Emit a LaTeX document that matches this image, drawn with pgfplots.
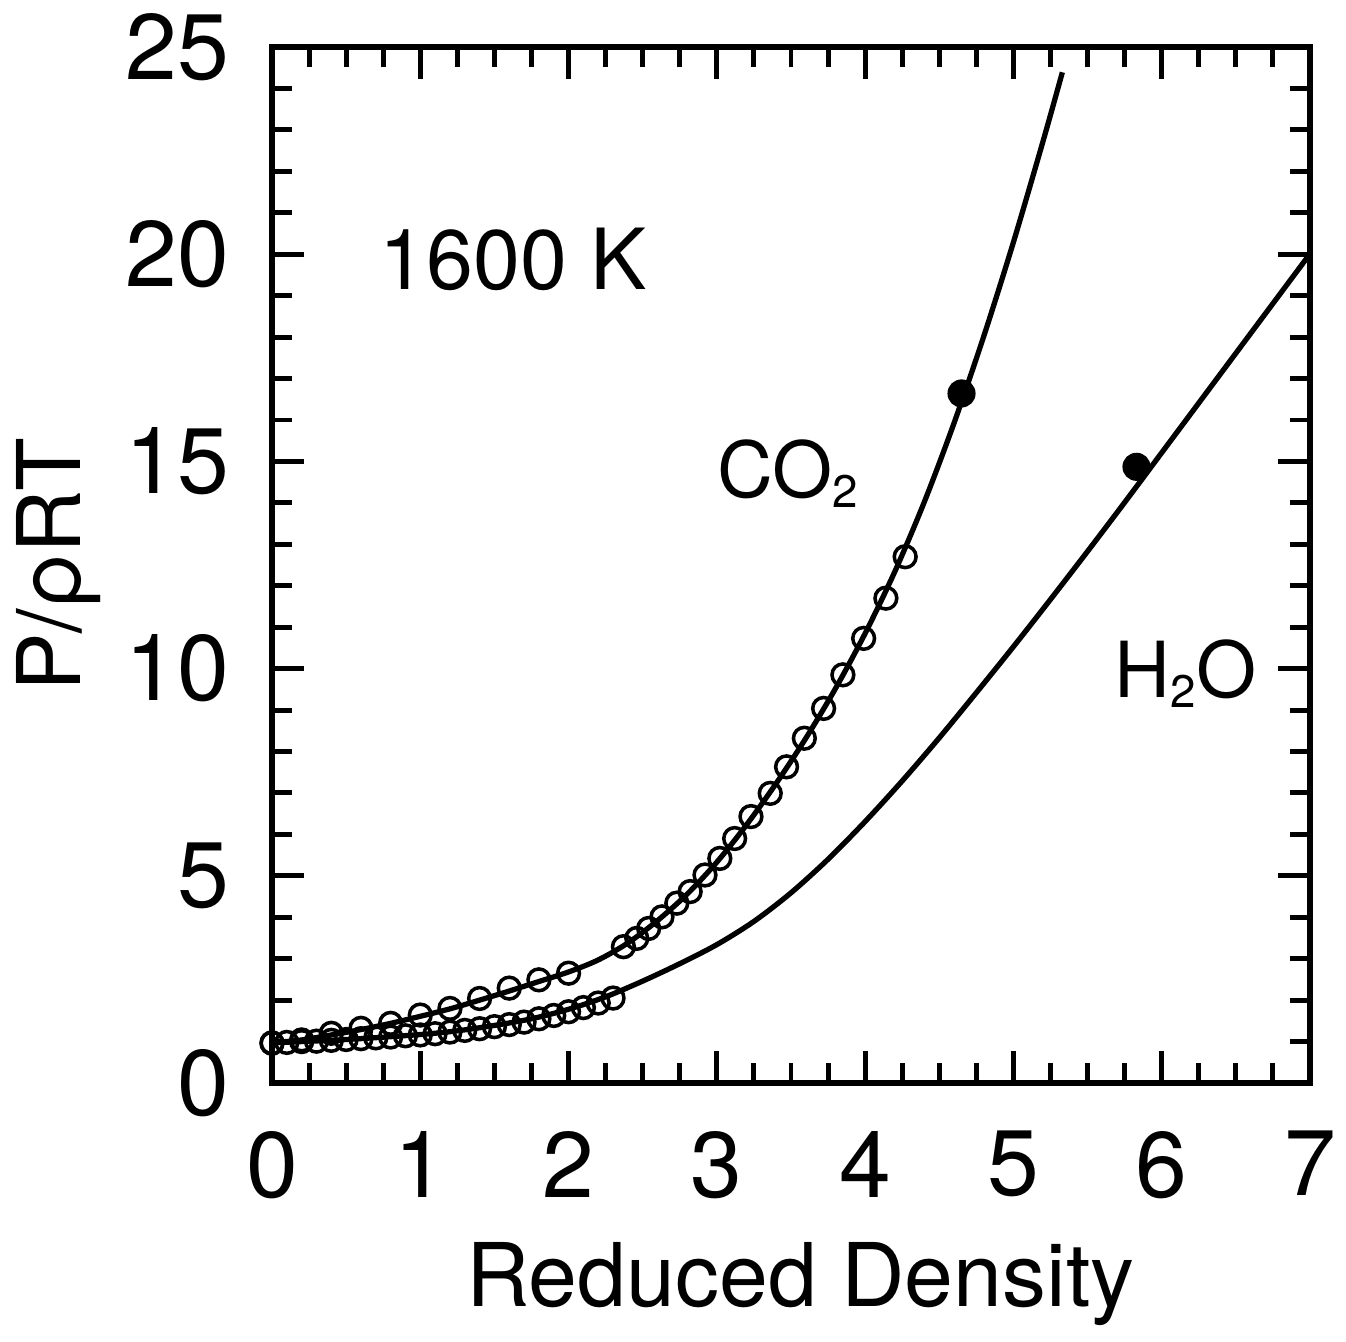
\documentclass[border=0pt]{standalone}
\usepackage{pgfplots}
\pgfplotsset{compat=1.18}
\usepackage{fontspec}
\setmainfont{TeX Gyre Heros}
\newcommand{\sub}[1]{\raisebox{-0.1cm}{\fontsize{13}{15}\selectfont #1}}

\begin{document}
\fontsize{25}{30}\selectfont
\begin{tikzpicture}
\begin{axis}[
  scale only axis, width=10.38cm, height=10.36cm,
  xmin=0, xmax=7, ymin=0, ymax=25,
  xtick={0,...,7}, ytick={0,5,...,25},
  minor x tick num=3, minor y tick num=4,
  tick align=inside, xtick pos=both, ytick pos=both,
  major tick length=0.32cm, minor tick length=0.2cm,
  every tick/.style={black, line width=1.4pt},
  axis line style={line width=1.7pt},
  tick label style={font=\fontsize{26.5}{30}\selectfont},
  /pgf/number format/assume math mode=true,
  xticklabel style={yshift=-0.18cm},
  yticklabel style={xshift=-0.13cm},
  xlabel={Reduced Density}, ylabel={P/ρRT},
  label style={font=\fontsize{25}{30}\selectfont},
  xlabel style={at={(axis description cs:0.509,-0.125)}, anchor=north},
  ylabel style={at={(axis description cs:-0.206,0.5)}, anchor=center},
  clip=false,
]
% fitted curves
\addplot[black, line width=1.5pt, smooth] coordinates {
  (0,0.97) (0.2,1.04) (0.4,1.16) (0.6,1.29) (0.8,1.44) (1.0,1.61)
  (1.2,1.79) (1.4,2.00) (1.6,2.22) (1.8,2.45) (2.0,2.68) (2.2,2.97)
  (2.4,3.38) (2.6,3.92) (2.8,4.56) (3.0,5.33) (3.2,6.23) (3.4,7.23)
  (3.6,8.32) (3.8,9.52) (4.0,10.85) (4.2,12.34) (4.4,14.03) (4.6,15.93)
  (4.8,18.02) (5.0,20.29) (5.2,22.73) (5.33,24.39)};
\addplot[black, line width=1.5pt, smooth] coordinates {
  (0,0.97) (0.5,1.05) (1.0,1.17) (1.25,1.26) (1.5,1.39) (1.75,1.55)
  (2.0,1.78) (2.25,2.08) (2.5,2.46) (2.75,2.88) (3.0,3.34) (3.25,3.90)
  (3.5,4.59) (3.75,5.40) (4.0,6.31) (4.25,7.29) (4.5,8.33) (4.75,9.42)
  (5.0,10.53) (5.25,11.67) (5.5,12.83) (5.75,14.01) (6.0,15.21)
  (6.25,16.41) (6.5,17.61) (6.75,18.81) (7.0,20.01)};
% CO2 points
\addplot[only marks, mark=o, mark size=3.1pt, mark options={line width=1pt, black}] coordinates {
  (0,0.96) (0.2,1.04) (0.4,1.20) (0.6,1.32) (0.8,1.44) (1.0,1.64)
  (1.2,1.80) (1.4,2.04) (1.6,2.29) (1.8,2.49) (2.0,2.65)
  (2.37,3.29) (2.46,3.49) (2.54,3.73) (2.63,4.01) (2.73,4.34) (2.82,4.62)
  (2.92,5.02) (3.02,5.42) (3.12,5.90) (3.23,6.43) (3.36,6.99) (3.47,7.63)
  (3.59,8.32) (3.72,9.04) (3.85,9.85) (3.99,10.73) (4.14,11.70) (4.27,12.70)};
% H2O points
\addplot[only marks, mark=o, mark size=3.1pt, mark options={line width=1pt, black}] coordinates {
  (0,0.97) (0.1,0.98) (0.2,1.00) (0.3,1.01) (0.4,1.03) (0.5,1.05)
  (0.6,1.07) (0.7,1.09) (0.8,1.11) (0.9,1.14) (1.0,1.16) (1.1,1.19)
  (1.2,1.23) (1.3,1.27) (1.4,1.31) (1.5,1.36) (1.6,1.41) (1.7,1.47)
  (1.8,1.55) (1.9,1.63) (2.0,1.72) (2.1,1.82) (2.2,1.93) (2.3,2.05)};
% filled points
\addplot[only marks, mark=*, mark size=3.8pt, black] coordinates {(4.65,16.64) (5.83,14.87)};
\node[anchor=base west, inner sep=0, font=\fontsize{24}{28}\selectfont] at (axis cs:0.72,19.14) {1600 K};
\node[anchor=base west, inner sep=0, font=\fontsize{22}{26}\selectfont] at (axis cs:3.00,14.14) {CO\sub{2}};
\node[anchor=base west, inner sep=0, font=\fontsize{22}{26}\selectfont] at (axis cs:5.68,9.31) {H\sub{2}O};
\end{axis}
\pgfresetboundingbox
\path (current axis.south west) ++(-2.72cm,-2.58cm) rectangle ++(13.46cm,13.41cm);
\end{tikzpicture}
\end{document}
